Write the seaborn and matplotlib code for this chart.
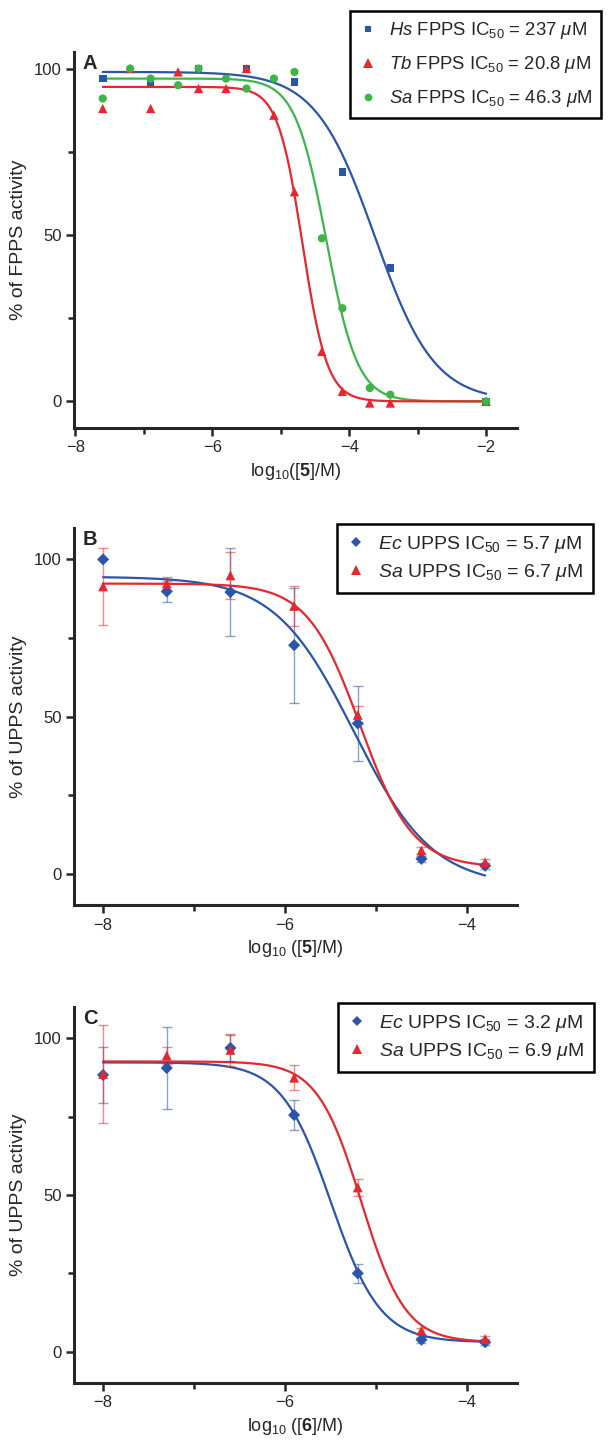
import numpy as np
import pandas as pd
import matplotlib
matplotlib.use('Agg')
import matplotlib.pyplot as plt
from matplotlib.lines import Line2D
from matplotlib.ticker import MultipleLocator
import seaborn as sns

sns.set_style('ticks')
plt.rcParams['font.family'] = ['Liberation Sans', 'DejaVu Sans']
plt.rcParams['mathtext.fontset'] = 'custom'
plt.rcParams['mathtext.rm'] = 'Liberation Sans'
plt.rcParams['mathtext.it'] = 'Liberation Sans:italic'
plt.rcParams['mathtext.bf'] = 'Liberation Sans:bold'

BLUE = '#2a55a8'
RED = '#e8262d'
GREEN = '#3cb64a'

# panel A : FPPS, compound 5
a_hs_x = [-7.6, -6.9, -6.2, -5.5, -4.8, -4.1, -3.4, -2.0]
a_hs_y = [97, 96, 100, 100, 96, 69, 40, 0]
a_tb_x = [-7.6, -7.2, -6.9, -6.5, -6.2, -5.8, -5.5, -5.1, -4.8, -4.4, -4.1, -3.7, -3.4, -2.0]
a_tb_y = [88, 100, 88, 99, 94, 94, 100, 86, 63, 15, 3, -0.5, -0.5, 0]
a_sa_x = [-7.6, -7.2, -6.9, -6.5, -6.2, -5.8, -5.5, -5.1, -4.8, -4.4, -4.1, -3.7, -3.4, -2.0]
a_sa_y = [91, 100, 97, 95, 100, 97, 94, 97, 99, 49, 28, 4, 2, 0]
# fit params: top, bottom, IC50 (M), hill
a_hs_fit = [99, 0, 237e-6, 1.0]
a_tb_fit = [94.5, 0, 20.8e-6, 2.4]
a_sa_fit = [97, 0, 46.3e-6, 1.9]

# panel B : UPPS, compound 5
b_x = [-8.0, -7.3, -6.6, -5.9, -5.2, -4.5, -3.8]
b_ec_y = [100, 89.8, 89.6, 72.7, 47.8, 4.7, 2.5]
b_ec_err = [0, 3.4, 14, 18.3, 12, 1, 1]
b_sa_y = [91.4, 92.3, 94.9, 85.2, 50.5, 7.4, 3.6]
b_sa_err = [12.3, 2, 7.5, 6.3, 3, 1, 1]
b_ec_fit = [94.5, -4, 5.7e-6, 1.0]
b_sa_fit = [92.3, 2, 6.7e-6, 1.5]

# panel C : UPPS, compound 6
c_x = [-8.0, -7.3, -6.6, -5.9, -5.2, -4.5, -3.8]
c_ec_y = [88.3, 90.5, 96.9, 75.5, 25, 3.8, 3.0]
c_ec_err = [8.9, 13.2, 4, 4.8, 3, 1, 1]
c_sa_y = [88.6, 94.5, 96.3, 87.4, 52.4, 6.7, 4.0]
c_sa_err = [15.6, 2.6, 5, 4, 2.7, 1, 1]
c_ec_fit = [92.3, 3, 3.2e-6, 1.6]
c_sa_fit = [92.6, 3, 6.9e-6, 1.8]


def dose_response(x, p):
    top, bottom, ic50, hill = p
    return bottom + (top - bottom) / (1 + 10 ** ((x - np.log10(ic50)) * hill))


def fit_line(ax, p, x0, x1, color):
    xs = np.linspace(x0, x1, 200)
    df = pd.DataFrame({'x': xs, 'y': dose_response(xs, p)})
    sns.lineplot(data=df, x='x', y='y', ax=ax, color=color, lw=1.6)


def style_axes(ax, xlim, ylim, letter, ylabel, xlabel):
    ax.set_xlim(xlim)
    ax.set_ylim(ylim)
    ax.xaxis.set_major_locator(MultipleLocator(2))
    ax.xaxis.set_minor_locator(MultipleLocator(1))
    ax.yaxis.set_major_locator(MultipleLocator(50))
    ax.yaxis.set_minor_locator(MultipleLocator(25))
    ax.tick_params(which='major', length=6, width=1.8, labelsize=12, pad=3)
    ax.tick_params(which='minor', length=4, width=1.8)
    for s in ['top', 'right']:
        ax.spines[s].set_visible(False)
    for s in ['left', 'bottom']:
        ax.spines[s].set_linewidth(2.2)
    ax.set_ylabel(ylabel, fontsize=14, labelpad=5)
    ax.set_xlabel(xlabel, fontsize=13, labelpad=4)
    ax.text(0.02, 0.995, letter, transform=ax.transAxes, fontsize=14.5,
            fontweight='bold', va='top', ha='left')


fig = plt.figure(figsize=(6.11, 14.43), dpi=100)
axA = fig.add_axes([0.1211, 0.7034, 0.725, 0.2606])
axB = fig.add_axes([0.1211, 0.3728, 0.725, 0.2613])
axC = fig.add_axes([0.1211, 0.0416, 0.725, 0.2606])

# ---- A
for p, c in [(a_hs_fit, BLUE), (a_sa_fit, GREEN), (a_tb_fit, RED)]:
    fit_line(axA, p, -7.6, -2.0, c)
sns.scatterplot(x=a_hs_x, y=a_hs_y, ax=axA, marker='s', color=BLUE, s=30, edgecolor='none', zorder=3)
sns.scatterplot(x=a_tb_x, y=a_tb_y, ax=axA, marker='^', color=RED, s=45, edgecolor='none', zorder=3)
sns.scatterplot(x=a_sa_x, y=a_sa_y, ax=axA, marker='o', color=GREEN, s=35, edgecolor='none', zorder=3)
style_axes(axA, (-8.02, -1.55), (-8, 105), 'A', '% of FPPS activity',
           r'log$_{10}$([$\mathbf{5}$]/M)')

# ---- B
fit_line(axB, b_ec_fit, -8.0, -3.8, BLUE)
fit_line(axB, b_sa_fit, -8.0, -3.8, RED)
axB.errorbar(b_x, b_ec_y, yerr=b_ec_err, fmt='none', ecolor=BLUE, alpha=0.55, elinewidth=1, capsize=3.5)
axB.errorbar(b_x, b_sa_y, yerr=b_sa_err, fmt='none', ecolor=RED, alpha=0.55, elinewidth=1, capsize=3.5)
sns.scatterplot(x=b_x, y=b_ec_y, ax=axB, marker='D', color=BLUE, s=38, edgecolor='none', zorder=3)
sns.scatterplot(x=b_x, y=b_sa_y, ax=axB, marker='^', color=RED, s=50, edgecolor='none', zorder=3)
style_axes(axB, (-8.32, -3.45), (-10, 110), 'B', '% of UPPS activity',
           r'log$_{10}$ ([$\mathbf{5}$]/M)')

# ---- C
fit_line(axC, c_ec_fit, -8.0, -3.8, BLUE)
fit_line(axC, c_sa_fit, -8.0, -3.8, RED)
axC.errorbar(c_x, c_ec_y, yerr=c_ec_err, fmt='none', ecolor=BLUE, alpha=0.55, elinewidth=1, capsize=3.5)
axC.errorbar(c_x, c_sa_y, yerr=c_sa_err, fmt='none', ecolor=RED, alpha=0.55, elinewidth=1, capsize=3.5)
sns.scatterplot(x=c_x, y=c_ec_y, ax=axC, marker='D', color=BLUE, s=38, edgecolor='none', zorder=3)
sns.scatterplot(x=c_x, y=c_sa_y, ax=axC, marker='^', color=RED, s=50, edgecolor='none', zorder=3)
style_axes(axC, (-8.32, -3.45), (-10, 110), 'C', '% of UPPS activity',
           r'log$_{10}$ ([$\mathbf{6}$]/M)')


def handle(marker, color, ms):
    return Line2D([], [], ls='none', marker=marker, color=color, markersize=ms, markeredgewidth=0)


legA = [handle('s', BLUE, 5), handle('^', RED, 7), handle('o', GREEN, 5.5)]
labA = [r'$\it{Hs}$ FPPS IC$_{50}$ = 237 $\mu$M',
        r'$\it{Tb}$ FPPS IC$_{50}$ = 20.8 $\mu$M',
        r'$\it{Sa}$ FPPS IC$_{50}$ = 46.3 $\mu$M']
legB = [handle('D', BLUE, 5.5), handle('^', RED, 7)]
labB = [r'$\it{Ec}$ UPPS IC$_{50}$ = 5.7 $\mu$M', r'$\it{Sa}$ UPPS IC$_{50}$ = 6.7 $\mu$M']
labC = [r'$\it{Ec}$ UPPS IC$_{50}$ = 3.2 $\mu$M', r'$\it{Sa}$ UPPS IC$_{50}$ = 6.9 $\mu$M']

for ax, h, l, x0, y0, fs, sp in [(axA, legA, labA, 350 / 611, 1 - 11 / 1443, 13.3, 0.7),
                                 (axB, legB, labB, 337 / 611, 1 - 524 / 1443, 14, 0.38),
                                 (axC, legB, labC, 338 / 611, 1 - 1003 / 1443, 14, 0.38)]:
    lg = ax.legend(h, l, loc='upper left', bbox_to_anchor=(x0, y0), bbox_transform=fig.transFigure,
                   fontsize=fs, frameon=True, fancybox=False, edgecolor='black',
                   framealpha=1, borderpad=0.5, labelspacing=sp, handletextpad=0.6,
                   handlelength=1.0, borderaxespad=0)
    lg.get_frame().set_linewidth(1.8)

fig.savefig('out.png', dpi=100)
